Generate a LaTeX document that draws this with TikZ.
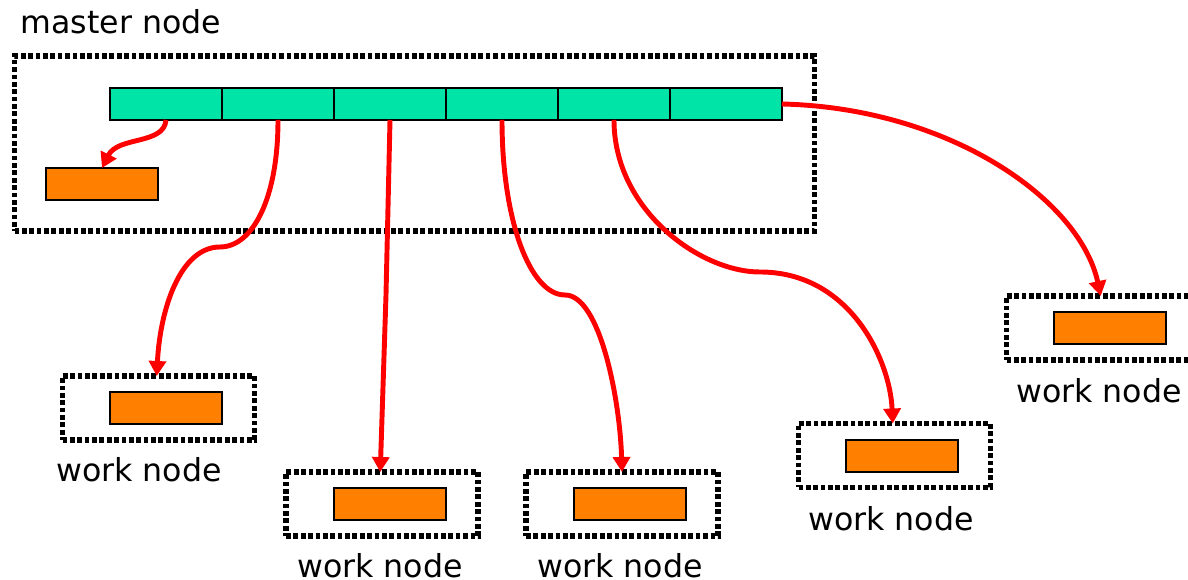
\documentclass[tikz,border=0pt]{standalone}
\usepackage{fontspec}
\setmainfont{DejaVu Sans}
\usetikzlibrary{arrows.meta}
\definecolor{cellgreen}{RGB}{0,228,168}
\definecolor{boxorange}{RGB}{255,128,0}
\definecolor{arrowred}{RGB}{255,0,0}
\begin{document}
\begin{tikzpicture}[x=0.02cm,y=-0.02cm,
  cell/.style={draw=black,fill=cellgreen,line width=1.2pt,minimum width=2.24cm,minimum height=0.64cm,inner sep=0pt,outer sep=0pt},
  job/.style={draw=black,fill=boxorange,line width=1.2pt,minimum width=2.24cm,minimum height=0.64cm,inner sep=0pt,outer sep=0pt},
  dotbox/.style={draw=black,line width=3.1pt,dash pattern=on 2.7pt off 1.5pt,inner sep=0pt,outer sep=0pt},
  wbox/.style={dotbox,minimum width=3.84cm,minimum height=1.28cm},
  lbl/.style={font=\fontsize{18}{21}\selectfont,inner sep=0pt},
  flow/.style={draw=arrowred,line width=2.8pt,-{Triangle[length=0.3cm,width=0.34cm]}}
]
\useasboundingbox (0,0) rectangle (1188,580);
\node[lbl] (mlabel) at (121,22) {master node};
\node[dotbox,minimum width=16cm,minimum height=3.5cm] (master) at (414.5,143.5) {};
\node[cell] (c1) at (166,104) {};
\node[cell] (c2) at (278,104) {};
\node[cell] (c3) at (390,104) {};
\node[cell] (c4) at (502,104) {};
\node[cell] (c5) at (614,104) {};
\node[cell] (c6) at (726,104) {};
\node[job] (m) at (102,184) {};

\node[wbox] (w1) at (158.5,408) {};
\node[job] (j1) at (166,408) {};
\node[lbl] (l1) at (139,470) {work node};

\node[wbox] (w2) at (382,504) {};
\node[job] (j2) at (390,504) {};
\node[lbl] (l2) at (380,566) {work node};

\node[wbox] (w3) at (622,504) {};
\node[job] (j3) at (630,504) {};
\node[lbl] (l3) at (620,566) {work node};

\node[wbox] (w4) at (894.5,455.5) {};
\node[job] (j4) at (902,456) {};
\node[lbl] (l4) at (891,519) {work node};

\node[wbox] (w5) at (1102.5,328) {};
\node[job] (j5) at (1110,328) {};
\node[lbl] (l5) at (1099,391) {work node};

\coordinate (e1) at ([xshift=-1pt]w1.north);
\draw[flow] (c1.south) .. controls (164,145) and (118,136) .. (m.north);
\draw[flow] (c2.south) .. controls (278,200) and (252,247) .. (220,247)
   .. controls (180,247) and (160,310) .. (e1);
\draw[flow] (c3.south) -- (386,295) -- ([xshift=-1pt]w2.north);
\draw[flow] (c4.south) .. controls (502,220) and (530,295) .. (565,295)
   .. controls (600,295) and (620,400) .. (w3.north);
\draw[flow] (c5.south) .. controls (614,210) and (700,272) .. (760,272)
   .. controls (850,272) and (890,360) .. ([xshift=-1pt]w4.north);
\draw[flow] (c6.east) .. controls (950,108) and (1080,200) .. ([xshift=-1pt]w5.north);
\end{tikzpicture}
\end{document}
